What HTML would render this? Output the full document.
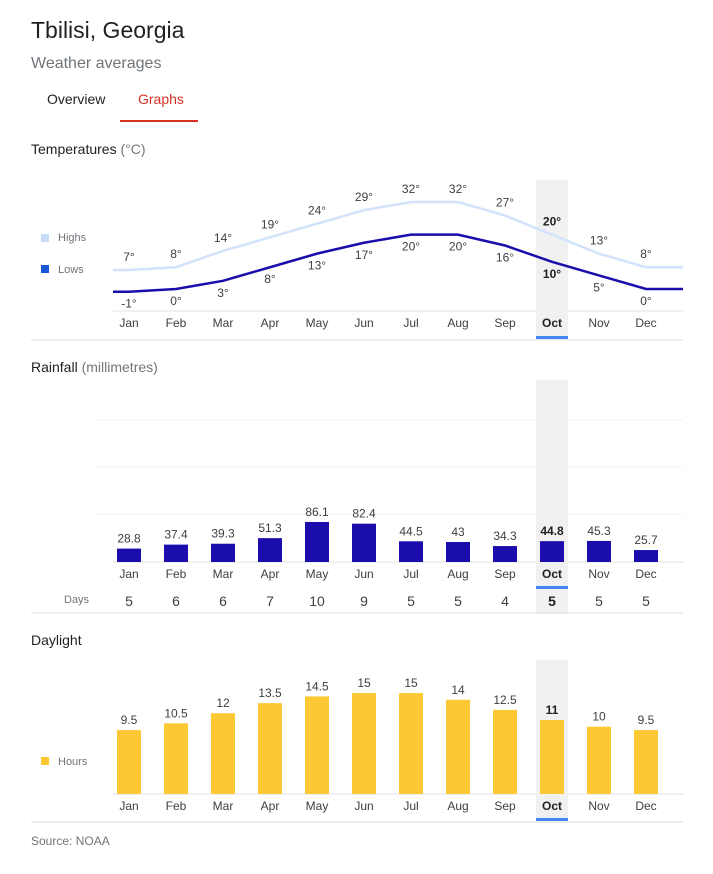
<!DOCTYPE html>
<html><head><meta charset="utf-8"><style>
body{margin:0;background:#fff;font-family:"Liberation Sans",Arial,sans-serif;}
svg text{font-family:"Liberation Sans",Arial,sans-serif;}
</style></head><body>
<svg id="s" width="713" height="869" xmlns="http://www.w3.org/2000/svg">
<text x="31" y="38" font-size="23" fill="#202124">Tbilisi, Georgia</text>
<text x="31" y="68" font-size="16" fill="#70757a">Weather averages</text>
<text x="47" y="104" font-size="14" fill="#202124">Overview</text>
<text x="138" y="104" font-size="14" fill="#d93025">Graphs</text>
<rect x="120" y="120" width="78" height="2" fill="#d93025"/>
<text x="31" y="154" font-size="14" fill="#202124">Temperatures <tspan fill="#70757a">(°C)</tspan></text>
<text x="31" y="372" font-size="14" fill="#202124">Rainfall <tspan fill="#70757a">(millimetres)</tspan></text>
<text x="31" y="645" font-size="14" fill="#202124">Daylight</text>
<rect x="536" y="180" width="32" height="160" fill="#f1f1f1"/>
<rect x="536" y="380" width="32" height="233" fill="#f1f1f1"/>
<rect x="536" y="660" width="32" height="160" fill="#f1f1f1"/>
<rect x="41" y="234" width="8" height="8" fill="#c9dcf7"/>
<text x="58" y="241" font-size="11" fill="#70757a">Highs</text>
<rect x="41" y="265" width="8" height="8" fill="#1a58d6"/>
<text x="58" y="273" font-size="11" fill="#70757a">Lows</text>
<rect x="41" y="757" width="8" height="8" fill="#fcc934"/>
<text x="58" y="765" font-size="11" fill="#70757a">Hours</text>
<text x="64" y="603" font-size="11" fill="#70757a">Days</text>
<line x1="113" y1="311" x2="683" y2="311" stroke="#f1f1f1" stroke-width="2"/>
<line x1="96" y1="420" x2="683" y2="420" stroke="#f1f1f1"/>
<line x1="96" y1="467" x2="683" y2="467" stroke="#f1f1f1"/>
<line x1="96" y1="514" x2="683" y2="514" stroke="#f1f1f1"/>
<line x1="113" y1="562" x2="683" y2="562" stroke="#f1f1f1" stroke-width="2"/>
<line x1="113" y1="794" x2="683" y2="794" stroke="#f1f1f1" stroke-width="2"/>
<line x1="31" y1="340" x2="683" y2="340" stroke="#dadce0"/>
<line x1="31" y1="613" x2="683" y2="613" stroke="#dadce0"/>
<line x1="31" y1="822" x2="683" y2="822" stroke="#dadce0"/>
<rect x="536" y="336" width="32" height="3" fill="#4285f4"/>
<rect x="536" y="586" width="32" height="3" fill="#4285f4"/>
<rect x="536" y="818" width="32" height="3" fill="#4285f4"/>
<text x="31" y="845" font-size="12" fill="#70757a">Source: NOAA</text>
<g id="g"></g>
</svg>
<script>
const months=["Jan","Feb","Mar","Apr","May","Jun","Jul","Aug","Sep","Oct","Nov","Dec"];
const highs=[7,8,14,19,24,29,32,32,27,20,13,8];
const lows=[-1,0,3,8,13,17,20,20,16,10,5,0];
const rainfall=[28.8,37.4,39.3,51.3,86.1,82.4,44.5,43,34.3,44.8,45.3,25.7];
const rainDays=[5,6,6,7,10,9,5,5,4,5,5,5];
const daylight=[9.5,10.5,12,13.5,14.5,15,15,14,12.5,11,10,9.5];
const SEL=9;
const NS="http://www.w3.org/2000/svg";
const g=document.getElementById('g');
function x(i){return 129+i*47;}
function yT(t){return 289-2.72*t;}
function yR(v){return 562-0.465*v;}
function yD(v){return 794-6.73*v;}
function mk(tag,a,txt){const e=document.createElementNS(NS,tag);for(const k in a)e.setAttribute(k,a[k]);if(txt!==undefined)e.textContent=txt;g.appendChild(e);return e;}
function linePts(arr){const p=arr.map((v,i)=>x(i)+','+yT(v));p.unshift((x(0)-16)+','+yT(arr[0]));p.push((x(11)+37)+','+yT(arr[11]));return p.join(' ');}
let e=mk('polyline',{points:linePts(highs),fill:'none',stroke:'#d2e3fc','stroke-width':2.5});


e=mk('polyline',{points:linePts(lows),fill:'none',stroke:'#1a0dab','stroke-width':2.5});


months.forEach((m,i)=>{
 const b=i===SEL?'bold':'normal', c=i===SEL?'#202124':'#3c4043';
 let t=mk('text',{x:x(i),y:yT(highs[i])-9,'font-size':12,'text-anchor':'middle',fill:c,'font-weight':b},highs[i]+'°');
 
 
 t=mk('text',{x:x(i),y:yT(lows[i])+16,'font-size':12,'text-anchor':'middle',fill:c,'font-weight':b},lows[i]+'°');
 
 
 [327,578,810].forEach(yy=>{
  t=mk('text',{x:x(i),y:yy,'font-size':12,'text-anchor':'middle',fill:c,'font-weight':b},m);
  
  
 });
 let r=mk('rect',{x:x(i)-12,y:yR(rainfall[i]),width:24,height:562-yR(rainfall[i]),fill:'#1a0dab'});
 
 
 t=mk('text',{x:x(i),y:yR(rainfall[i])-6,'font-size':12,'text-anchor':'middle',fill:c,'font-weight':b},rainfall[i]);
 
 
 t=mk('text',{x:x(i),y:606,'font-size':14,'text-anchor':'middle',fill:c,'font-weight':b},rainDays[i]);
 
 
 r=mk('rect',{x:x(i)-12,y:yD(daylight[i]),width:24,height:794-yD(daylight[i]),fill:'#fcc934'});
 
 
 t=mk('text',{x:x(i),y:yD(daylight[i])-6,'font-size':12,'text-anchor':'middle',fill:c,'font-weight':b},daylight[i]);
 
 
});
</script>
</body></html>
